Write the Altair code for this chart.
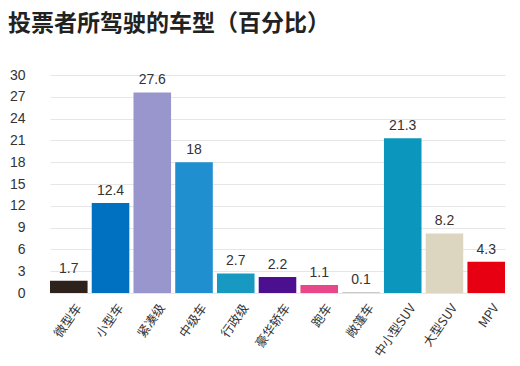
import altair as alt
import pandas as pd

categories = ["微型车", "小型车", "紧凑级", "中级车", "行政级", "豪华轿车", "跑车", "敞篷车", "中小型SUV", "大型SUV", "MPV"]
values = [1.7, 12.4, 27.6, 18, 2.7, 2.2, 1.1, 0.1, 21.3, 8.2, 4.3]
colors = ["#2e221d", "#0070c0", "#9896cc", "#1f8fd0", "#1899c2", "#4b0f8f", "#e8478a", "#b8b8b8", "#0a96bd", "#dcd6c0", "#e60012"]
y_ticks = [0, 3, 6, 9, 12, 15, 18, 21, 24, 27, 30]

df = pd.DataFrame({"cat": categories, "val": values, "color": colors})

x = alt.X("cat:N", sort=categories, title=None,
          scale=alt.Scale(range=[14, 469], paddingInner=0.1, paddingOuter=0),
          axis=alt.Axis(labelAngle=-55, labelAlign="right", labelBaseline="middle",
                        labelFont="Noto Sans CJK SC", labelFontSize=12.5, labelColor="#333333",
                        labelOffset=10, labelPadding=12, ticks=False, domain=False, grid=False))
y = alt.Y("val:Q", title=None, scale=alt.Scale(domain=[0, 30], nice=False),
          axis=alt.Axis(values=y_ticks, labelFont="Liberation Sans", labelFontSize=14,
                        labelColor="#333333", labelPadding=11, ticks=False, domain=False,
                        grid=True, gridColor="#e6e6e6", gridWidth=1))

bars = alt.Chart(df).mark_bar().encode(x=x, y=y, color=alt.Color("color:N", scale=None))
text = alt.Chart(df).mark_text(baseline="bottom", dy=-5, font="Liberation Sans", fontSize=14,
                               color="#333333").encode(x=x, y=y, text=alt.Text("val:Q"))

chart = (bars + text).properties(
    width=474, height=218,
    autosize=alt.AutoSizeParams(type="none"),
    padding={"left": 28, "top": 67, "right": 2, "bottom": 66},
    title=alt.TitleParams("投票者所驾驶的车型（百分比）", anchor="start", frame="group",
                          font="Noto Sans CJK SC", fontSize=23, fontWeight="bold",
                          color="#222222", dx=-28, offset=32),
).configure_view(stroke=None)

chart.save("out.html", embed_options={"renderer": "svg", "actions": False})
